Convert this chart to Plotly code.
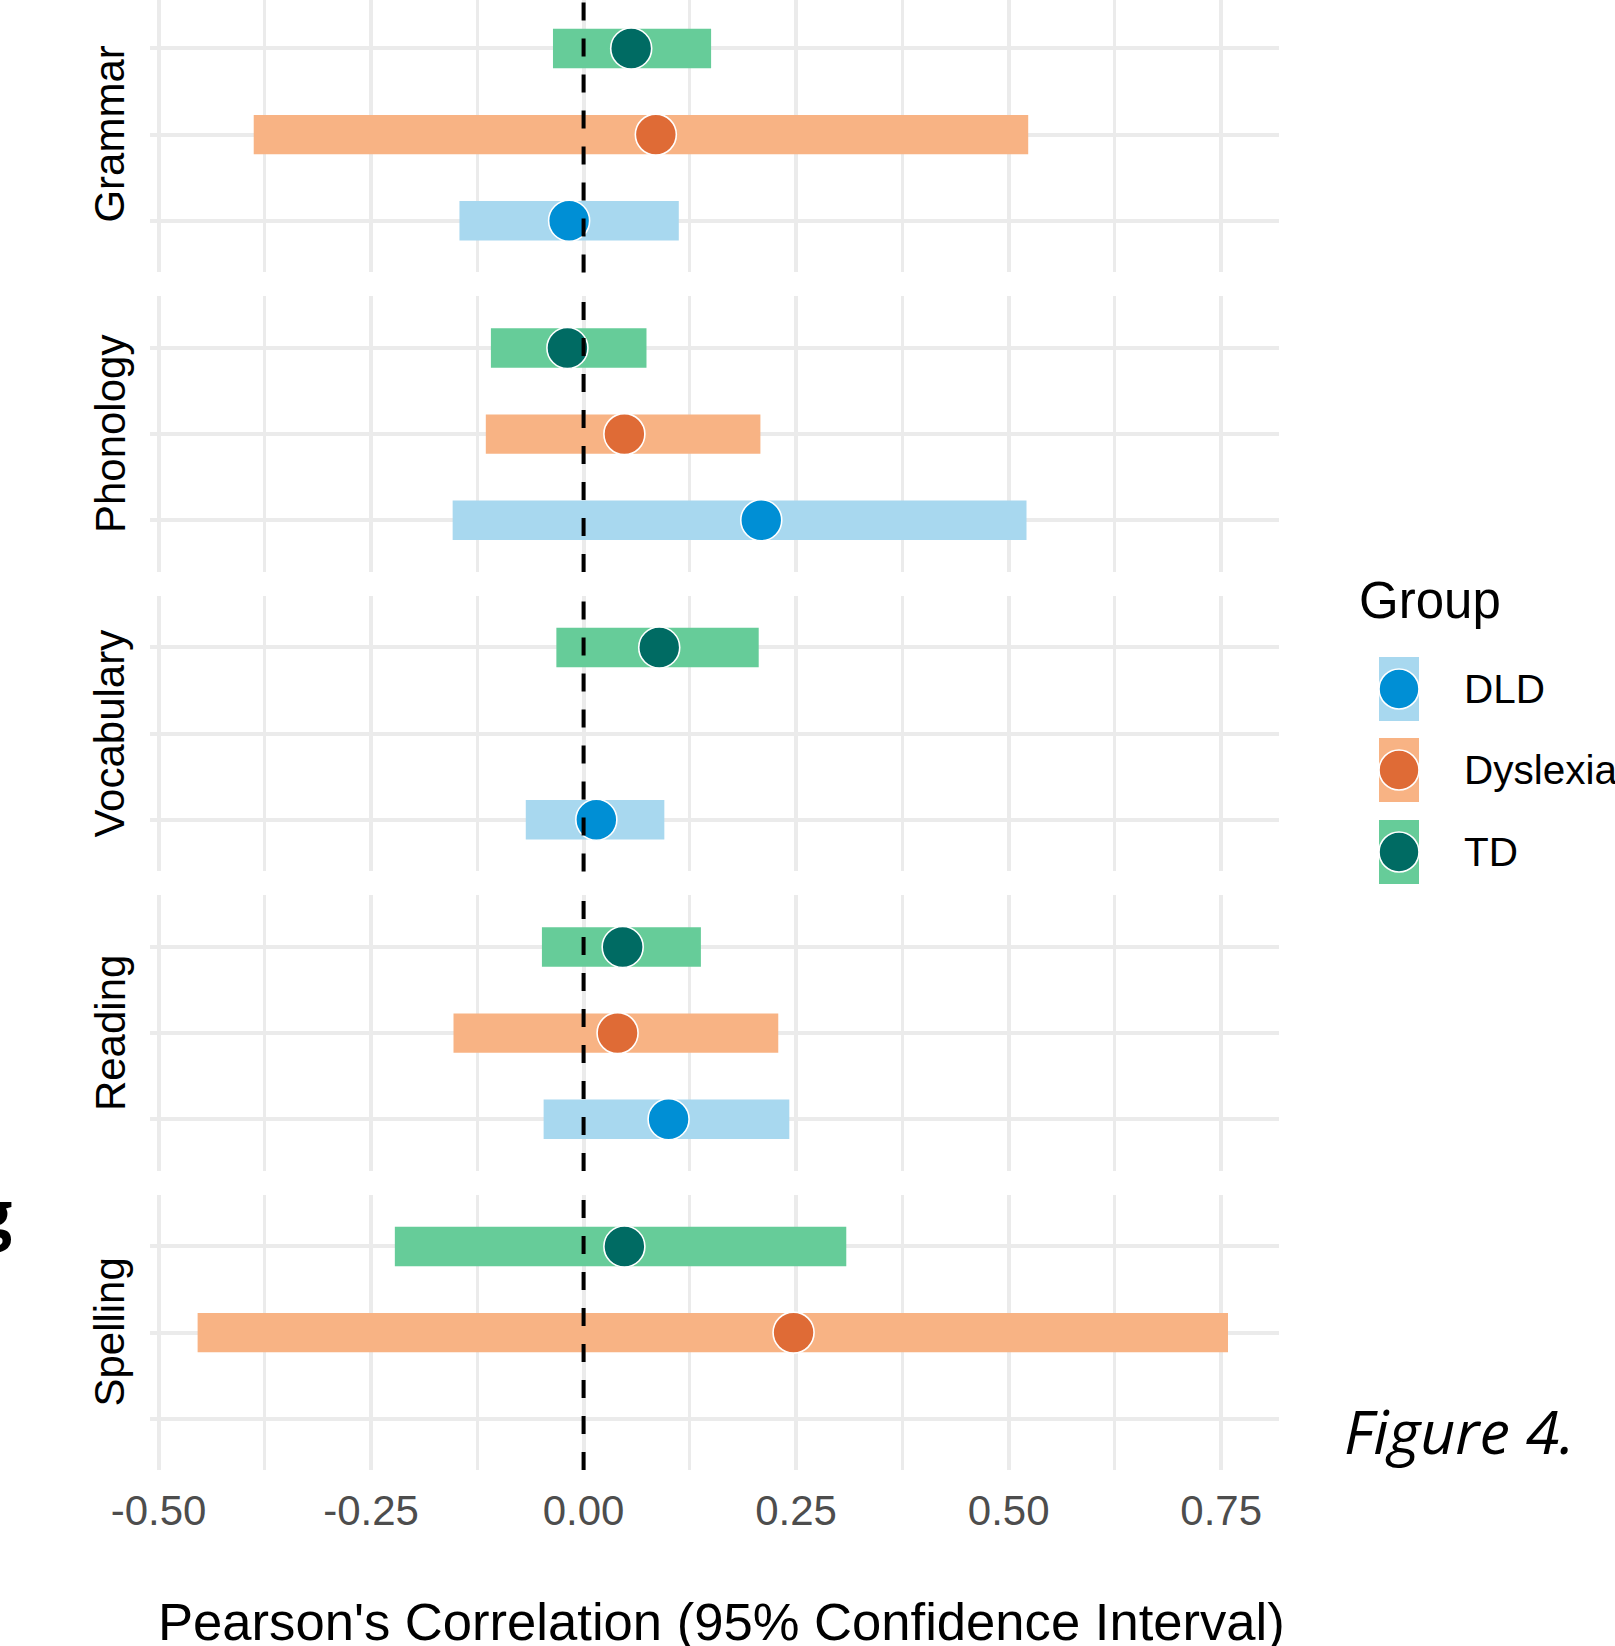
import plotly.graph_objects as go

# ---------------- data ----------------
outcomes = ["Grammar", "Phonology", "Vocabulary", "Reading", "Spelling"]
groups = ["TD", "Dyslexia", "DLD"]          # top -> bottom inside each panel
legend_order = ["DLD", "Dyslexia", "TD"]
x_ticks = [-0.50, -0.25, 0.00, 0.25, 0.50, 0.75]
x_tick_labels = ["-0.50", "-0.25", "0.00", "0.25", "0.50", "0.75"]

td_r = [0.056, -0.019, 0.089, 0.046, 0.048]
td_lo = [-0.036, -0.109, -0.032, -0.049, -0.222]
td_hi = [0.150, 0.074, 0.206, 0.138, 0.309]

dys_r = [0.085, 0.048, None, 0.040, 0.247]
dys_lo = [-0.388, -0.115, None, -0.153, -0.454]
dys_hi = [0.523, 0.208, None, 0.229, 0.758]

dld_r = [-0.017, 0.209, 0.015, 0.100, None]
dld_lo = [-0.146, -0.154, -0.068, -0.047, None]
dld_hi = [0.112, 0.521, 0.095, 0.242, None]

series = {
    "TD": (td_r, td_lo, td_hi),
    "Dyslexia": (dys_r, dys_lo, dys_hi),
    "DLD": (dld_r, dld_lo, dld_hi),
}
bar_col = {"DLD": "#A8D8EF", "Dyslexia": "#F8B384", "TD": "#66CC99"}
pt_col = {"DLD": "#008FD5", "Dyslexia": "#DF6B36", "TD": "#006B63"}

# ---------------- geometry ----------------
W, H = 1615, 1646
ML, MR, MT, MB = 150, 336, 0, 176
PW = W - ML - MR
PH = H - MT - MB
GRID = "#EBEBEB"
FONT = "Liberation Sans, Arial, sans-serif"


def px2x(px):
    return (px - ML) / PW


def py2y(py):
    return 1 - (py - MT) / PH


panel_h = 275.6
panel_step = 299.5
first_top = -3.2
unit_px = panel_h / 3.2

fig = go.Figure()
layout = dict(
    width=W, height=H, autosize=False,
    margin=dict(l=ML, r=MR, t=MT, b=MB),
    paper_bgcolor="white", plot_bgcolor="white",
    showlegend=False, font=dict(family=FONT),
)
annotations = []
shapes = []

for i, outc in enumerate(outcomes):
    top = first_top + panel_step * i
    bot = top + panel_h
    vis_top = max(top, 0)
    vis_bot = min(bot, PH)
    y_hi = 0.4 + (vis_top - top) / unit_px
    y_lo = 3.6 - (bot - vis_bot) / unit_px
    xa = "xaxis" if i == 0 else f"xaxis{i+1}"
    ya = "yaxis" if i == 0 else f"yaxis{i+1}"
    xr = "x" if i == 0 else f"x{i+1}"
    yr = "y" if i == 0 else f"y{i+1}"
    last = i == len(outcomes) - 1
    layout[xa] = dict(
        domain=[0, 1], anchor=yr, range=[-0.51, 0.818],
        tickvals=x_ticks, ticktext=x_tick_labels,
        showticklabels=last, ticks="",
        tickfont=dict(size=42, color="#4D4D4D", family=FONT),
        ticklabelstandoff=12,
        showgrid=True, gridcolor=GRID, gridwidth=4.3,
        minor=dict(showgrid=True, gridcolor=GRID, gridwidth=3,
                   tickvals=[-0.375, -0.125, 0.125, 0.375, 0.625]),
        zeroline=False, showline=False, fixedrange=True,
    )
    layout[ya] = dict(
        domain=[py2y(vis_bot), py2y(vis_top)], anchor=xr,
        range=[y_lo, y_hi], tickvals=[1, 2, 3], showticklabels=False,
        ticks="", showgrid=True, gridcolor=GRID, gridwidth=4.3,
        zeroline=False, showline=False, fixedrange=True,
    )
    for gi, g in enumerate(groups):
        r, lo, hi = series[g]
        if r[i] is None:
            continue
        ypos = gi + 1
        fig.add_trace(go.Bar(
            orientation="h", y=[ypos], x=[hi[i] - lo[i]], base=[lo[i]],
            width=0.457, marker=dict(color=bar_col[g], line=dict(width=0)),
            xaxis=xr, yaxis=yr, name=g, hoverinfo="skip",
        ))
    for gi, g in enumerate(groups):
        r, lo, hi = series[g]
        if r[i] is None:
            continue
        fig.add_trace(go.Scatter(
            x=[r[i]], y=[gi + 1], mode="markers",
            marker=dict(size=41, color=pt_col[g], line=dict(color="white", width=1.6)),
            xaxis=xr, yaxis=yr, name=g,
        ))
    # reference line at zero
    shapes.append(dict(
        type="line", xref=xr, yref=f"{yr} domain", x0=0, x1=0, y0=0, y1=1,
        line=dict(color="black", width=4, dash="18px,18px"), layer="above",
    ))
    # facet label
    annotations.append(dict(
        text=outc, xref="paper", yref="paper",
        x=px2x(110), y=py2y((top + bot) / 2), textangle=-90,
        showarrow=False, xanchor="center", yanchor="middle",
        font=dict(size=42, color="black", family=FONT),
    ))

# axis title
annotations.append(dict(
    text="Pearson's Correlation (95% Confidence Interval)",
    xref="paper", yref="paper", x=px2x(721), y=py2y(1621),
    showarrow=False, xanchor="center", yanchor="middle",
    font=dict(size=52.6, color="black", family=FONT),
))

# legend (drawn manually: bar-colour key with point on top)
annotations.append(dict(
    text="Group", xref="paper", yref="paper", x=px2x(1357), y=py2y(600),
    showarrow=False, xanchor="left", yanchor="middle",
    font=dict(size=51, color="black", family=FONT),
))
key_tops = [657, 738, 820]
for g, kt in zip(legend_order, key_tops):
    shapes.append(dict(
        type="rect", xref="paper", yref="paper",
        x0=px2x(1379), x1=px2x(1419), y0=py2y(kt + 64), y1=py2y(kt),
        fillcolor=bar_col[g], line=dict(width=0), layer="above",
    ))
    cy = kt + 32
    shapes.append(dict(
        type="circle", xref="paper", yref="paper",
        x0=px2x(1399 - 20), x1=px2x(1399 + 20), y0=py2y(cy + 20), y1=py2y(cy - 20),
        fillcolor=pt_col[g], line=dict(color="white", width=1.6), layer="above",
    ))
    annotations.append(dict(
        text=g, xref="paper", yref="paper", x=px2x(1462), y=py2y(cy),
        showarrow=False, xanchor="left", yanchor="middle",
        font=dict(size=40.5, color="black", family=FONT),
    ))

# stray caption texts
annotations.append(dict(
    text="<i>Figure 4.</i>", xref="paper", yref="paper", x=px2x(1342), y=py2y(1430),
    showarrow=False, xanchor="left", yanchor="middle",
    font=dict(size=61, color="black", family="Open Sans, Noto Sans, sans-serif"),
))
annotations.append(dict(
    text="<b>g</b>", xref="paper", yref="paper", x=px2x(14), y=py2y(1212),
    showarrow=False, xanchor="right", yanchor="middle",
    font=dict(size=64, color="black", family="Open Sans, Noto Sans, sans-serif"),
))

layout["annotations"] = annotations
layout["shapes"] = shapes
fig.update_layout(**layout)

fig.write_html(
    "out.html",
    config={"displayModeBar": False},
    post_script="document.body.style.margin='0';document.body.style.overflow='hidden';",
)
